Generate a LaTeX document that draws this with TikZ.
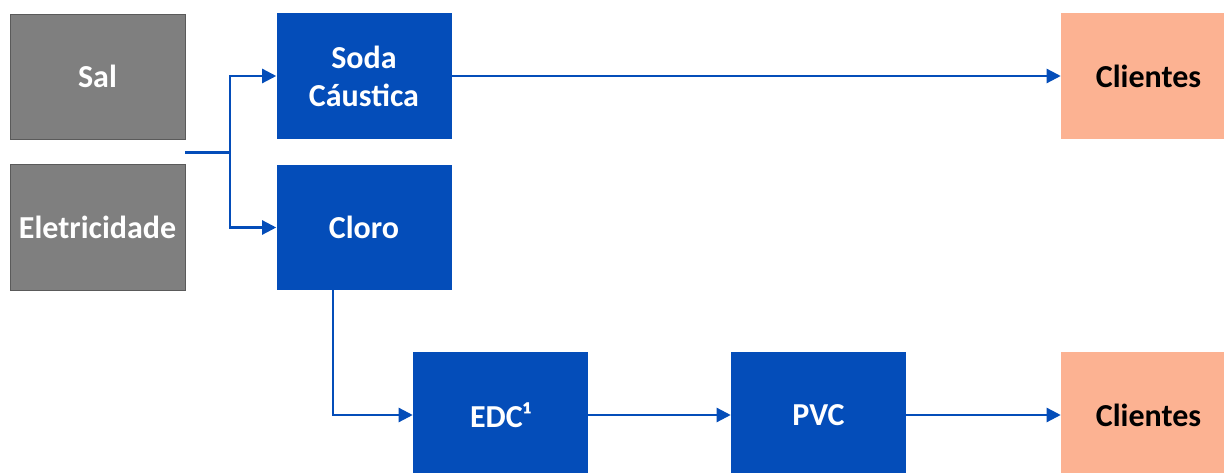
\documentclass[tikz,border=0pt]{standalone}
\usepackage{fontspec}
\setmainfont{Carlito}
\usetikzlibrary{arrows.meta}
\definecolor{bblue}{RGB}{4,77,185}
\definecolor{salmon}{RGB}{252,178,146}
\definecolor{ggray}{RGB}{127,127,127}
\definecolor{gborder}{RGB}{90,90,90}
\begin{document}
\begin{tikzpicture}[x=0.75pt,y=-0.75pt,
  box/.style={rectangle, minimum width=131.25pt, minimum height=94pt, inner sep=0pt, align=center,
    font=\fontsize{24}{28.5}\selectfont\bfseries},
  bluebox/.style={box, fill=bblue, text=white},
  graybox/.style={box, fill=ggray, draw=gborder, line width=0.6pt, text=white},
  clibox/.style={box, fill=salmon, text=black},
  line/.style={draw=bblue, line width=1.7pt},
  conn/.style={line, -{Triangle[length=10.5pt,width=10.5pt]}}]
\useasboundingbox (0,0) rectangle (1224,473);
% gray source boxes
\node[graybox, minimum height=93.75pt] (sal) at (97.5,76.5) {Sal};
\node[graybox, minimum height=94.5pt] (elec) at (97.5,227) {Eletricidade};
% blue process boxes
\node[bluebox] (soda) at (364,76) {Soda\\C\'austica};
\node[bluebox] (cloro) at (364,227.5) {Cloro};
\node[bluebox] (edc) at (500.5,415) {EDC¹};
\node[bluebox] (pvc) at (818.5,415) {PVC};
% clients
\node[clibox] (cli1) at (1148.5,76) {Clientes};
\node[clibox] (cli2) at (1148.5,415) {Clientes};
% connectors
\coordinate (src) at (185,152.5);
\coordinate (j) at (230,152.5);
\coordinate (cx) at (333,0);
\draw[line] (src) -- (j);
\draw[conn] (j) |- (soda.west);
\draw[conn] (j) |- (cloro.west);
\draw[conn] (soda.east) -- (cli1.west |- soda.east);
\draw[conn] (cloro.south -| cx) |- (edc.west);
\draw[conn] (edc.east) -- (pvc.west);
\draw[conn] (pvc.east) -- (cli2.west);
\end{tikzpicture}
\end{document}
